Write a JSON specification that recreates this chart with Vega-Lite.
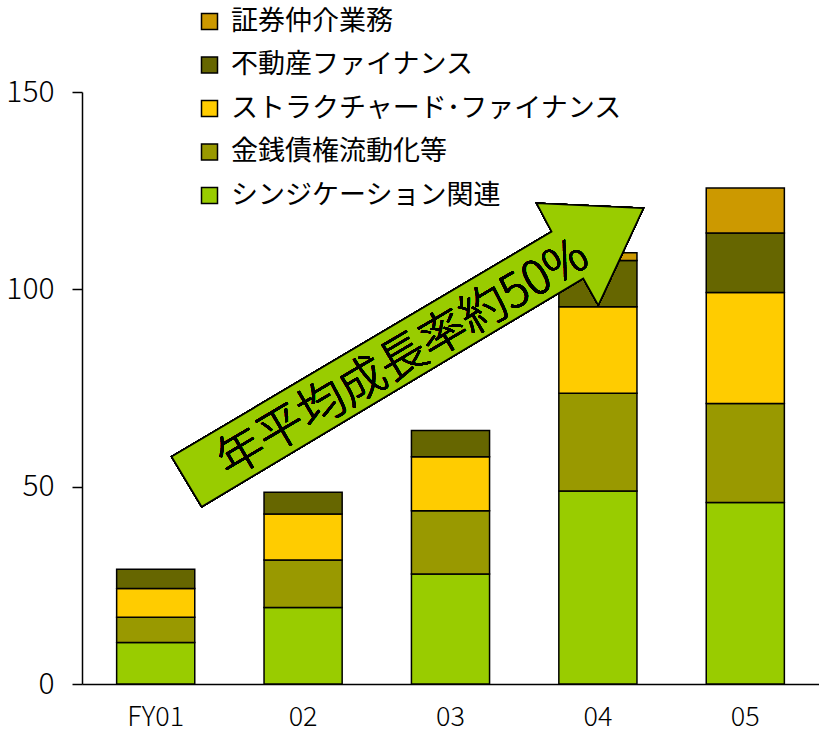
{
  "$schema": "https://vega.github.io/schema/vega-lite/v6.json",
  "width": 737,
  "height": 592,
  "autosize": "none",
  "padding": {"left": 82, "top": 92, "right": 0, "bottom": 64},
  "background": "white",
  "config": {"view": {"stroke": null}, "font": "Noto Sans CJK JP"},
  "data": {
    "values": [
      {"year": "FY01", "series": "シンジケーション関連", "k": 1, "value": 10.5},
      {"year": "FY01", "series": "金銭債権流動化等", "k": 2, "value": 6.4},
      {"year": "FY01", "series": "ストラクチャード･ファイナンス", "k": 3, "value": 7.3},
      {"year": "FY01", "series": "不動産ファイナンス", "k": 4, "value": 4.9},
      {"year": "02", "series": "シンジケーション関連", "k": 1, "value": 19.4},
      {"year": "02", "series": "金銭債権流動化等", "k": 2, "value": 12.0},
      {"year": "02", "series": "ストラクチャード･ファイナンス", "k": 3, "value": 11.7},
      {"year": "02", "series": "不動産ファイナンス", "k": 4, "value": 5.5},
      {"year": "03", "series": "シンジケーション関連", "k": 1, "value": 27.9},
      {"year": "03", "series": "金銭債権流動化等", "k": 2, "value": 16.0},
      {"year": "03", "series": "ストラクチャード･ファイナンス", "k": 3, "value": 13.7},
      {"year": "03", "series": "不動産ファイナンス", "k": 4, "value": 6.6},
      {"year": "04", "series": "シンジケーション関連", "k": 1, "value": 48.9},
      {"year": "04", "series": "金銭債権流動化等", "k": 2, "value": 24.8},
      {"year": "04", "series": "ストラクチャード･ファイナンス", "k": 3, "value": 21.9},
      {"year": "04", "series": "不動産ファイナンス", "k": 4, "value": 11.7},
      {"year": "04", "series": "証券仲介業務", "k": 5, "value": 2.0},
      {"year": "05", "series": "シンジケーション関連", "k": 1, "value": 46.0},
      {"year": "05", "series": "金銭債権流動化等", "k": 2, "value": 25.1},
      {"year": "05", "series": "ストラクチャード･ファイナンス", "k": 3, "value": 28.1},
      {"year": "05", "series": "不動産ファイナンス", "k": 4, "value": 15.1},
      {"year": "05", "series": "証券仲介業務", "k": 5, "value": 11.4}
    ]
  },
  "layer": [
    {
      "mark": {"type": "bar", "stroke": "black", "strokeWidth": 1.5},
      "encoding": {
        "x": {
          "field": "year", "type": "nominal", "sort": null,
          "scale": {"paddingInner": 0.47, "paddingOuter": 0.235},
          "axis": {"title": null, "labelAngle": 0, "ticks": false, "domainColor": "black", "domainWidth": 1.5, "labelFontSize": 27, "labelFontWeight": 300, "labelPadding": 20, "labelColor": "black"}
        },
        "y": {
          "field": "value", "type": "quantitative", "stack": "zero",
          "scale": {"domain": [0, 150], "nice": false},
          "axis": {"title": null, "values": [0, 50, 100, 150], "grid": false, "domainColor": "black", "domainWidth": 1.5, "tickColor": "black", "tickWidth": 1.5, "tickSize": 10, "labelFontSize": 30, "labelFontWeight": 300, "labelColor": "black", "labelPadding": 18}
        },
        "color": {
          "field": "series", "type": "nominal",
          "scale": {
            "domain": ["証券仲介業務", "不動産ファイナンス", "ストラクチャード･ファイナンス", "金銭債権流動化等", "シンジケーション関連"],
            "range": ["#CC9900", "#666600", "#FFCC00", "#999900", "#99CC00"]
          },
          "legend": {"orient": "none", "legendX": 114, "legendY": -84, "title": null, "labelFontSize": 27, "labelLimit": 0, "labelColor": "black", "symbolType": "square", "symbolSize": 256, "symbolStrokeColor": "black", "symbolStrokeWidth": 1.5, "symbolOpacity": 1, "rowPadding": 15.5, "labelOffset": 8}
        },
        "order": {"field": "k", "type": "quantitative"}
      }
    },
    {
      "mark": {"type": "point", "shape": "M -278.8 68.7 L 101.2 -156.3 L 86.2 -184.7 L 192.8 -179.7 L 147.8 -83 L 132.8 -109.7 L -248.8 118.7 Z", "size": 4, "filled": true, "fill": "#99CC00", "stroke": "black", "strokeWidth": 1.5, "opacity": 1},
      "encoding": {"x": {"datum": "03"}, "y": {"datum": 75, "scale": {"domain": [0, 150], "nice": false}}}
    },
    {
      "mark": {"type": "text", "text": "年平均成長率約50%", "angle": -30.5, "fontSize": 47, "fontWeight": 300, "dx": -26.2, "dy": -49.1, "align": "center", "baseline": "middle", "color": "black"},
      "encoding": {"x": {"datum": "03"}, "y": {"datum": 75, "scale": {"domain": [0, 150], "nice": false}}}
    }
  ]
}
